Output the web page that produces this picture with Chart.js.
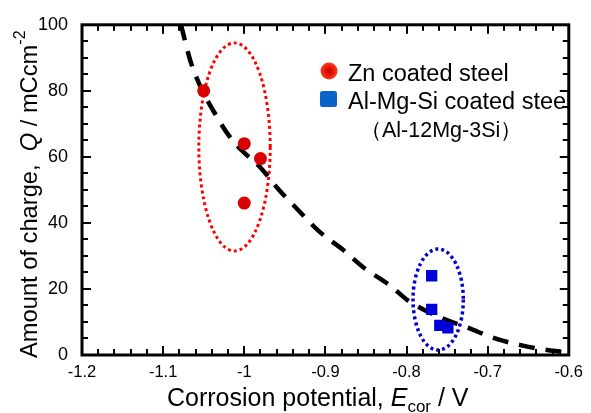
<!DOCTYPE html>
<html>
<head>
<meta charset="utf-8">
<script src="https://cdn.jsdelivr.net/npm/chart.js@4/dist/chart.umd.min.js"></script>
<style>
  html, body { margin: 0; padding: 0; background: #fff; }
  #wrap { width: 591px; height: 413px; position: relative; }
</style>
</head>
<body>
<div id="wrap"><canvas id="c" width="591" height="413"></canvas></div>
<script>
// ---- Data ----
const znE = [-1.05, -1.0, -0.98, -1.0];
const znQ = [80, 64, 59.5, 46];
const alE = [-0.769, -0.769, -0.759, -0.749];
const alQ = [24, 13.8, 9, 8.2];
const fitE = [-1.078, -1.065, -1.031, -1.011, -0.979, -0.959, -0.934, -0.908, -0.879, -0.853, -0.820, -0.798, -0.755, -0.727, -0.688, -0.654, -0.617, -0.600];
const fitQ = [100, 88, 71, 64, 56.5, 50.5, 44, 37.5, 32, 26.5, 21, 16.5, 11, 8.5, 4.8, 2.7, 1.2, 0.8];
const ellipseCenterE = [-1.012, -0.761];
const ellipseCenterQ = [63, 16.8];
const ellipseHalfE = [0.044, 0.031];
const ellipseHalfQ = [31.5, 15.3];
const xTickValues = [-1.2, -1.1, -1.0, -0.9, -0.8, -0.7, -0.6];
const xTickLabels = ['-1.2', '-1.1', '-1', '-0.9', '-0.8', '-0.7', '-0.6'];
const yTickValues = [0, 20, 40, 60, 80, 100];
const yTickLabels = ['0', '20', '40', '60', '80', '100'];
const xMinorTicks = [-1.2, -1.18, -1.16, -1.14, -1.12, -1.1, -1.08, -1.06, -1.04, -1.02, -1.0, -0.98, -0.96, -0.94, -0.92, -0.9, -0.88, -0.86, -0.84, -0.82, -0.8, -0.78, -0.76, -0.74, -0.72, -0.7, -0.68, -0.66, -0.64, -0.62, -0.6];
const yMinorTicks = [0, 5, 10, 15, 20, 25, 30, 35, 40, 45, 50, 55, 60, 65, 70, 75, 80, 85, 90, 95, 100];
const legendLabels = ['Zn coated steel', 'Al-Mg-Si coated steel', '（Al-12Mg-3Si）'];

const FONT = "'Liberation Sans', Arial, Helvetica, sans-serif";

function pts(xs, ys) { return xs.map((x, i) => ({ x: x, y: ys[i] })); }

const ellipsePlugin = {
  id: 'ellipses',
  beforeDatasetsDraw(chart) {
    const { ctx, scales: { x, y }, chartArea } = chart;
    const styles = [
      { color: '#ff0000', width: 3, dash: [3, 3] },
      { color: '#0000d0', width: 3.5, dash: [3, 3] }
    ];
    ctx.save();
    ctx.beginPath();
    ctx.rect(chartArea.left, chartArea.top, chartArea.right - chartArea.left, chartArea.bottom - chartArea.top);
    ctx.clip();
    ellipseCenterE.forEach((e, i) => {
      const cx = x.getPixelForValue(e);
      const cy = y.getPixelForValue(ellipseCenterQ[i]);
      const rx = Math.abs(x.getPixelForValue(e + ellipseHalfE[i]) - cx);
      const ry = Math.abs(y.getPixelForValue(ellipseCenterQ[i] + ellipseHalfQ[i]) - cy);
      ctx.beginPath();
      ctx.ellipse(cx, cy, rx, ry, 0, 0, Math.PI * 2);
      ctx.strokeStyle = styles[i].color;
      ctx.lineWidth = styles[i].width;
      ctx.setLineDash(styles[i].dash);
      ctx.stroke();
    });
    ctx.restore();
  }
};

const framePlugin = {
  id: 'frame',
  afterDraw(chart) {
    const ctx = chart.ctx;
    const xs = chart.scales.x, ys = chart.scales.y;
    const a = chart.chartArea;
    ctx.save();
    ctx.setLineDash([]);
    ctx.fillStyle = '#000';
    xMinorTicks.forEach((v, k) => {
      const px = Math.round(xs.getPixelForValue(v));
      const len = (k % 5 === 0) ? 9 : 6;
      ctx.fillRect(px - 1, a.bottom - len, 2, len);
      ctx.fillRect(px - 1, a.top, 2, len);
    });
    yMinorTicks.forEach((v, k) => {
      const py = Math.round(ys.getPixelForValue(v));
      const len = (k % 4 === 0) ? 9 : 6;
      ctx.fillRect(a.left, py - 1, len, 2);
      ctx.fillRect(a.right - len, py - 1, len, 2);
    });
    ctx.strokeStyle = '#000';
    ctx.lineWidth = 3;
    ctx.strokeRect(a.left, a.top, a.right - a.left, a.bottom - a.top);

    ctx.fillStyle = '#000';
    ctx.textBaseline = 'alphabetic';
    ctx.textAlign = 'left';
    let tx = 167, ty = 406;
    ctx.font = '25px ' + FONT;
    const s1 = 'Corrosion potential, ';
    ctx.fillText(s1, tx, ty); tx += ctx.measureText(s1).width;
    ctx.font = 'italic 25px ' + FONT;
    ctx.fillText('E', tx, ty); tx += ctx.measureText('E').width;
    ctx.font = '17px ' + FONT;
    ctx.fillText('cor', tx, ty + 6); tx += ctx.measureText('cor').width;
    ctx.font = '25px ' + FONT;
    ctx.fillText(' / V', tx, ty);

    ctx.save();
    ctx.translate(37, 358);
    ctx.rotate(-Math.PI / 2);
    let ry = 0;
    ctx.font = '23.7px ' + FONT;
    const t1 = 'Amount of charge,  ';
    ctx.fillText(t1, ry, 0); ry += ctx.measureText(t1).width;
    ctx.font = 'italic 23.7px ' + FONT;
    ctx.fillText('Q', ry, 0); ry += ctx.measureText('Q').width;
    ctx.font = '23.7px ' + FONT;
    const t2 = ' / mCcm';
    ctx.fillText(t2, ry, 0); ry += ctx.measureText(t2).width;
    ctx.font = '16px ' + FONT;
    ctx.fillText('-2', ry, -12);
    ctx.restore();

    const g = ctx.createRadialGradient(329, 71, 1, 329, 71, 8.5);
    g.addColorStop(0, '#d00000');
    g.addColorStop(1, '#ff3a1a');
    ctx.beginPath();
    ctx.arc(329, 71, 8.5, 0, Math.PI * 2);
    ctx.fillStyle = g;
    ctx.fill();
    ctx.fillStyle = '#0a64c8';
    ctx.beginPath();
    if (ctx.roundRect) ctx.roundRect(320, 91, 17, 16, 2.5); else ctx.rect(320, 91, 17, 16);
    ctx.fill();
    ctx.fillStyle = '#000';
    ctx.font = '23.5px ' + FONT;
    ctx.textBaseline = 'middle';
    ctx.fillText(legendLabels[0], 348, 75);
    ctx.fillText(legendLabels[1], 348, 103);
    ctx.font = '21.5px ' + FONT;
    ctx.fillText(legendLabels[2], 360, 131);
    ctx.restore();
  }
};

new Chart(document.getElementById('c'), {
  type: 'scatter',
  data: {
    datasets: [
      {
        label: 'Zn coated steel',
        data: pts(znE, znQ),
        pointStyle: 'circle',
        pointRadius: 6.5,
        pointHoverRadius: 6.5,
        backgroundColor: '#d80000',
        borderColor: '#d80000',
        borderWidth: 0,
        order: 1
      },
      {
        label: 'Al-Mg-Si coated steel',
        data: pts(alE, alQ),
        pointStyle: 'rect',
        pointRadius: 8,
        pointHoverRadius: 8,
        backgroundColor: '#0000d8',
        borderColor: '#0000d8',
        borderWidth: 0,
        order: 2
      },
      {
        label: 'fit',
        data: pts(fitE, fitQ),
        showLine: true,
        borderColor: '#000',
        borderWidth: 4.5,
        borderDash: [16, 11],
        pointRadius: 0,
        cubicInterpolationMode: 'monotone',
        fill: false,
        order: 3
      }
    ]
  },
  options: {
    responsive: false,
    animation: false,
    events: [],
    layout: { padding: { left: 0, top: 22, right: 17, bottom: 0 } },
    plugins: { legend: { display: false }, tooltip: { enabled: false } },
    scales: {
      x: {
        type: 'linear',
        min: -1.2, max: -0.6,
        grid: { display: false, drawTicks: false },
        border: { display: false },
        afterBuildTicks: (s) => { s.ticks = xTickValues.map(v => ({ value: v })); },
        afterFit: (s) => { s.height = 58; },
        ticks: {
          padding: 8,
          color: '#000',
          font: { family: FONT, size: 16.5 },
          callback: (v) => { const i = xTickValues.findIndex(t => Math.abs(t - v) < 1e-9); return i >= 0 ? xTickLabels[i] : ''; }
        }
      },
      y: {
        type: 'linear',
        min: 0, max: 100,
        grid: { display: false, drawTicks: false },
        border: { display: false },
        afterBuildTicks: (s) => { s.ticks = yTickValues.map(v => ({ value: v })); },
        afterFit: (s) => { s.width = 82; },
        ticks: {
          padding: 14,
          color: '#000',
          font: { family: FONT, size: 18 },
          callback: (v) => { const i = yTickValues.indexOf(v); return i >= 0 ? yTickLabels[i] : ''; }
        }
      }
    }
  },
  plugins: [ellipsePlugin, framePlugin]
});
</script>
</body>
</html>
